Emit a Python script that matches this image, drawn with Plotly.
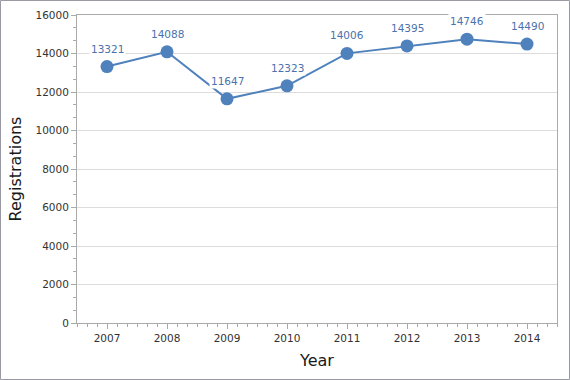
import plotly.graph_objects as go

years = [2007, 2008, 2009, 2010, 2011, 2012, 2013, 2014]
registrations = [13321, 14088, 11647, 12323, 14006, 14395, 14746, 14490]
y_ticks = [0, 2000, 4000, 6000, 8000, 10000, 12000, 14000, 16000]

W, H = 570, 380
ml, mr, mt, mb = 77, 13, 15, 57
pw, ph = W - ml - mr, H - mt - mb

fig = go.Figure()
fig.add_trace(go.Scatter(
    x=years, y=registrations, mode="lines+markers",
    line=dict(color="#4f81bd", width=2),
    marker=dict(color="#4f81bd", size=13),
    hoverinfo="skip", showlegend=False,
))

for yr, v in zip(years, registrations):
    fig.add_annotation(x=yr, y=v, text=str(v), showarrow=False, yshift=18,
                       bgcolor="white", borderpad=1,
                       font=dict(family="DejaVu Sans, Verdana, sans-serif", size=10.5, color="#4a72ac"))

fig.add_shape(type="rect", xref="paper", yref="paper",
              x0=-(ml - 0.5) / pw, x1=1 + (mr - 0.5) / pw,
              y0=-(mb - 0.5) / ph, y1=1 + (mt - 0.5) / ph,
              line=dict(color="#9a9aa5", width=1), layer="below")

fig.update_layout(
    width=W, height=H,
    margin=dict(l=ml, r=mr, t=mt, b=mb, autoexpand=False),
    paper_bgcolor="white", plot_bgcolor="white",
    font=dict(family="DejaVu Sans, Verdana, sans-serif", color="#333333", size=10.5),
    xaxis=dict(
        range=[years[0] - 0.5, years[-1] + 0.5], tickvals=years,
        ticktext=[str(y) for y in years], automargin=False,
        showline=True, linecolor="#aaaaaa", linewidth=1, mirror=True,
        ticks="outside", ticklen=5, tickcolor="#aaaaaa",
        showgrid=False, zeroline=False,
        minor=dict(tick0=years[0], dtick=1 / 6, ticks="outside", ticklen=3,
                   tickcolor="#aaaaaa", showgrid=False),
        title=dict(text="Year", font=dict(size=16, color="#1a1a1a"), standoff=12),
        tickfont=dict(size=10.5, color="#333333"),
    ),
    yaxis=dict(
        range=[0, 16000], tickvals=y_ticks, ticktext=[str(t) for t in y_ticks],
        automargin=False,
        showline=True, linecolor="#aaaaaa", linewidth=1, mirror=True,
        ticks="outside", ticklen=5, tickcolor="#aaaaaa",
        showgrid=True, gridcolor="#dcdcdc", zeroline=False,
        minor=dict(dtick=2000 / 3, ticks="outside", ticklen=3, tickcolor="#aaaaaa", showgrid=False),
        title=dict(text="Registrations", font=dict(size=16, color="#1a1a1a"), standoff=9),
        tickfont=dict(size=10.5, color="#333333"),
    ),
)

fig.write_html("out.html", config={"displayModeBar": False},
               post_script="document.body.style.margin='0';document.body.style.padding='0';")
